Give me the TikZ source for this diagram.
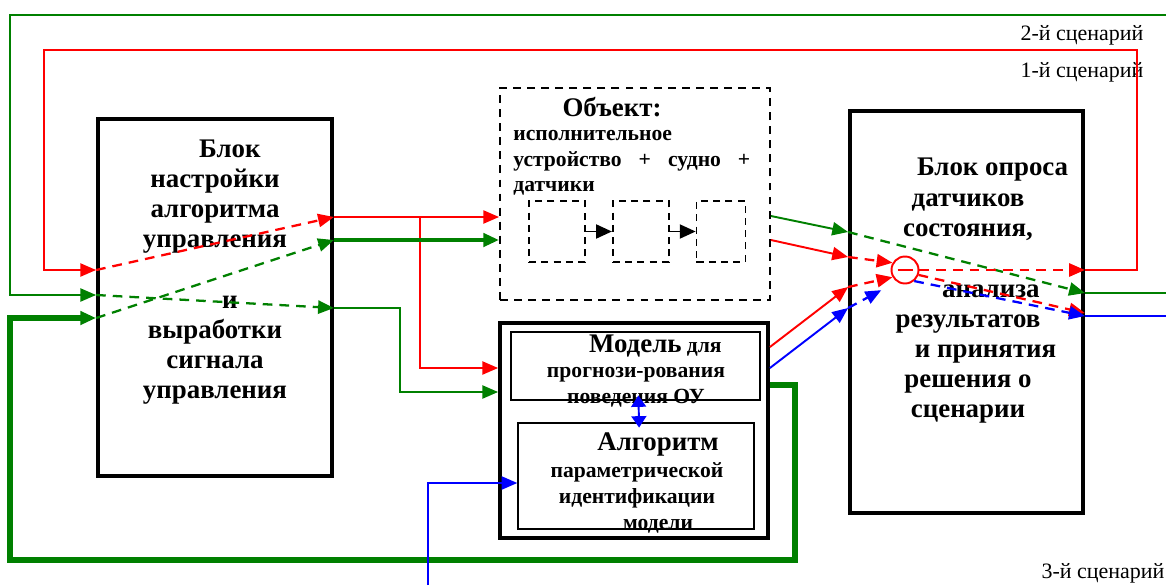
\documentclass[tikz,border=0pt]{standalone}
\usepackage{fontspec}
\setmainfont{Liberation Serif}
\usetikzlibrary{positioning, arrows.meta}
\definecolor{grn}{RGB}{0,128,0}

\begin{document}
\begin{tikzpicture}[
        x=0.02cm, y=-0.02cm,
        blk/.style={draw, rectangle, line width=2.2pt, inner sep=0pt},
        inbox/.style={draw, rectangle, line width=0.8pt, inner sep=0pt},
        objbox/.style={draw, rectangle, line width=1.1pt, dash pattern=on 4.5pt off 3.5pt, inner sep=0pt},
        subbox/.style={draw, rectangle, line width=1pt, dash pattern=on 4pt off 3pt, minimum height=1.22cm, inner sep=0pt},
        big/.style={font=\bfseries\fontsize{15.3}{17.2}\selectfont, align=center, inner sep=0pt},
        small/.style={font=\bfseries\fontsize{12.3}{14.6}\selectfont, inner sep=0pt},
        scen/.style={font=\fontsize{12.5}{14}\selectfont, inner sep=0pt},
        arr/.style={-{Triangle[length=9pt, width=7.5pt]}},
        rl/.style={red, line width=1.1pt},
        gl/.style={grn, line width=1.1pt},
        bl/.style={blue, line width=1.1pt},
        gth/.style={grn, line width=3pt},
        dsh/.style={line width=1.3pt, dash pattern=on 5.5pt off 4pt}
    ]

    \useasboundingbox (0,0) rectangle (1166,585);

    \node[blk, minimum width=4.68cm, minimum height=7.14cm] (Ctrl) at (215,297.5) {};
    \node[blk, minimum width=4.66cm, minimum height=8.04cm] (Dec) at (966.5,312) {};
    \node[objbox, minimum width=5.4cm, minimum height=4.24cm] (Obj) at (635,194) {};
    \node[blk, minimum width=5.36cm, minimum height=4.3cm] (Mod) at (634,430.5) {};
    \node[inbox, minimum width=4.98cm, minimum height=1.36cm] (Pred) at (635.5,366) {};
    \node[inbox, minimum width=4.72cm, minimum height=2.12cm] (Ident) at (636,476) {};

    \node[subbox, minimum width=1.12cm] (S1) at (557,231.5) {};
    \node[subbox, minimum width=1.12cm, right=0.52cm of S1] (S2) {};
    \node[subbox, minimum width=0.98cm, right=0.52cm of S2] (S3) {};

    \node[draw=red, circle, line width=1.1pt, minimum size=0.54cm, inner sep=0pt] (Cmp) at (905,270) {};

    \node[big] (CtrlText) at (215,272) {\hspace*{17pt}Блок\\настройки\\алгоритма\\управления\\[17.2pt]\hspace*{17pt}и\\выработки\\сигнала\\управления};
    \node[big] (DecText) at (968,291) {\hspace*{28pt}Блок опроса\\датчиков\\состояния,\\[17.3pt]\hspace*{26pt}анализа\\результатов\\\hspace*{20pt}и принятия\\решения о\\сценарии};
    \node[big] (ObjTitle) at (612,107) {Объект:};
    \node[small, text width=4.74cm, align=left, anchor=west] (ObjText) at (513,163) {исполнительное\\устройство\hfill+\hfill судно\hfill+\\датчики};
    \node[small, align=center] (PredText) at (636,371) {\hspace*{22pt}{\fontsize{15.3}{17}\selectfont Модель} для\\прогнози-рования\\поведения ОУ};
    \node[small, align=center, font=\bfseries\fontsize{12.3}{14.8}\selectfont] (IdentText) at (637,483) {\hspace*{24pt}{\fontsize{15.3}{17}\selectfont Алгоритм}\\параметрической\\идентификации\\\hspace*{24pt}модели};

    \node[scen] (Sc2) at (1082,35) {2-й сценарий};
    \node[scen] (Sc1) at (1082,72) {1-й сценарий};
    \node[scen] (Sc3) at (1103,573) {3-й сценарий};

    \coordinate (GIn) at (1166,15);
    \coordinate (GOut) at (1166,293);
    \coordinate (BOut) at (1166,316);
    \coordinate (BIn) at (428,585);
    \coordinate (RBr) at (420,217);
    \coordinate (GBr) at (400,308);

    \draw[rl, arr] (Dec.east |- Cmp) -| (1137,50) -| (44,270) -- (Ctrl.west |- 0,270);
    \draw[gl, arr] (GIn) -| (10,295) -- (Ctrl.west |- 0,295);
    \draw[gth, arr] (Mod.east |- 0,385) -| (795,560) -| (10,318) -- (Ctrl.west |- 0,318);

    \draw[rl, dsh, arr] (Ctrl.west |- 0,270) -- (Ctrl.east |- 0,217);
    \draw[gl, dsh, arr] (Ctrl.west |- 0,295) -- (Ctrl.east |- 0,308);
    \draw[gl, dsh, arr] (Ctrl.west |- 0,318) -- (Ctrl.east |- 0,240);

    \draw[rl, arr] (Ctrl.east |- 0,217) -- (Obj.west |- 0,217);
    \draw[rl, arr] (RBr) |- (Mod.west |- 0,368);
    \draw[gth, line width=2.6pt, arr] (Ctrl.east |- 0,240) -- (Obj.west |- 0,240);
    \draw[gl, arr] (Ctrl.east |- 0,308) -- (GBr) |- (Mod.west |- 0,392);

    \draw[line width=1pt, -{Triangle[length=9pt, width=8pt]}] (S1) -- (S2);
    \draw[line width=1pt, -{Triangle[length=9pt, width=8pt]}] (S2) -- (S3);

    \draw[gl, arr] (Obj.east |- 0,216) -- (Dec.west |- 0,232);
    \draw[rl, arr] (Obj.east |- 0,240) -- (Dec.west |- 0,257);
    \draw[rl, arr] (Mod.east |- 0,347) -- (Dec.west |- 0,287);
    \draw[bl, arr] (Mod.east |- 0,368) -- (Dec.west |- 0,308);

    \draw[gl, dsh, arr] (Dec.west |- 0,232) -- (Dec.east |- GOut);
    \draw[rl, dsh, arr] (Dec.west |- 0,257) -- (Cmp.150);
    \draw[rl, dsh, arr] (Dec.west |- 0,287) -- (Cmp.210);
    \draw[bl, dsh, arr, shorten >=10pt] (Dec.west |- 0,308) -- (Cmp.235);
    \draw[rl] ([xshift=-0.15cm]Cmp.center) -- ([xshift=0.15cm]Cmp.center);
    \draw[rl, dsh, arr] (Cmp.east) -- (Dec.east |- Cmp);
    \draw[rl, dsh, arr] (Cmp.-20) -- (Dec.east |- 0,313);
    \draw[bl, dsh, arr] (Cmp.-50) -- (Dec.east |- BOut);

    \draw[gl] (Dec.east |- GOut) -- (GOut);
    \draw[bl] (Dec.east |- BOut) -- (BOut);
    \draw[bl, arr] (BIn) |- (Ident.west |- 0,483);
    \draw[bl, {Triangle[length=6.5pt, width=8.5pt]}-{Triangle[length=6.5pt, width=8.5pt]}, shorten <=-3pt, shorten >=-3pt] ([xshift=0.06cm]Pred.south) -- ([xshift=0.06cm]Ident.north);

\end{tikzpicture}
\end{document}
